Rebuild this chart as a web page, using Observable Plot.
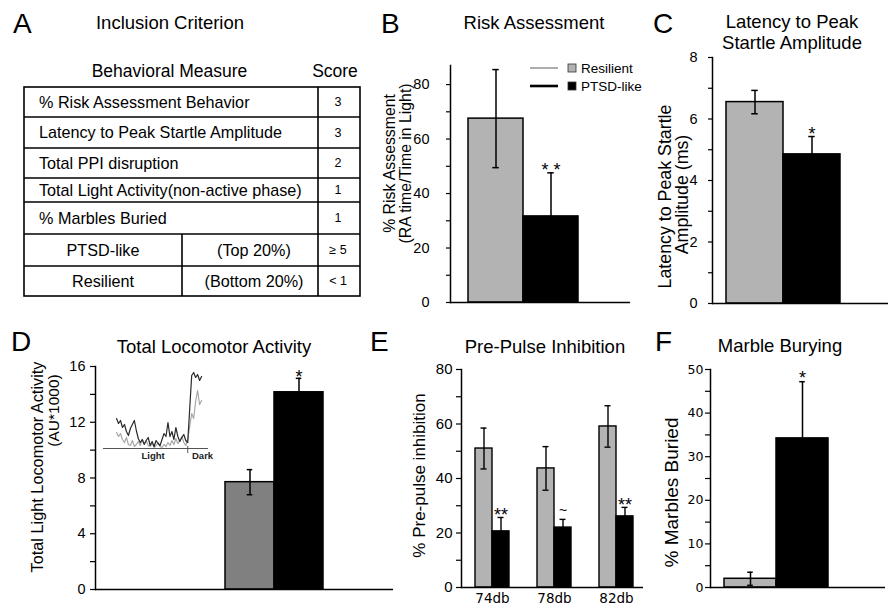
<!DOCTYPE html>
<html><head><meta charset="utf-8">
<script src="https://cdn.jsdelivr.net/npm/d3@7"></script>
<script src="https://cdn.jsdelivr.net/npm/@observablehq/plot@0.6"></script>
<style>
html,body{margin:0;padding:0;background:#fff;}
#fig{position:relative;width:893px;height:606px;overflow:hidden;background:#fff;font-family:"Liberation Sans",Arial,sans-serif;}
.panel{position:absolute;}
.panel svg{overflow:visible;background:transparent;}
#overlay{position:absolute;left:0;top:0;pointer-events:none;}
</style></head><body><div id="fig"></div>
<script>
// ---------------- data ----------------
const groups = ["Resilient", "PTSD-like"];

const riskValues = [67.5, 31.6];
const riskErrors = [18, 16];
const riskNotes = ["", "* *"];
const riskTicks = [0, 10, 20, 30, 40, 50, 60, 70, 80];
const riskTickLabels = [0, 20, 40, 60, 80];

const latencyValues = [6.55, 4.85];
const latencyErrors = [0.38, 0.58];
const latencyNotes = ["", "*"];
const latencyTicks = [0, 1, 2, 3, 4, 5, 6, 7, 8];
const latencyTickLabels = [0, 2, 4, 6, 8];

const locoValues = [7.7, 14.15];
const locoErrors = [0.9, 1.0];
const locoNotes = ["", "*"];
const locoTicks = [0, 2, 4, 6, 8, 10, 12, 14, 16];
const locoTickLabels = [0, 4, 8, 12, 16];

const ppiLevels = ["74db", "78db", "82db"];
const ppiResilient = [51, 43.7, 59.1];
const ppiResilientErr = [7.5, 8, 7.6];
const ppiPTSD = [20.6, 22, 26.1];
const ppiPTSDErr = [5.1, 3, 3.3];
const ppiNotes = ["**", "~", "**"];
const ppiTicks = [0, 10, 20, 30, 40, 50, 60, 70, 80];
const ppiTickLabels = [0, 20, 40, 60, 80];

const marbleValues = [2.0, 34.2];
const marbleErrors = [1.5, 13];
const marbleNotes = ["", "*"];
const marbleTicks = [0, 5, 10, 15, 20, 25, 30, 35, 40, 45, 50];
const marbleTickLabels = [0, 10, 20, 30, 40, 50];

// inset: activity trace per time bin (arbitrary units)
const insetPTSD = [30, 25, 28, 21, 24, 17, 13, 20, 24, 28, 18, 10, 6, 9, 4, 8, 11, 3, 7, 2, 8, 5, 3, 9, 15, 12, 26, 12, 17, 9, 21, 12, 7, 11, 14, 8, 6, 40, 73, 76, 71, 74, 68, 72];
const insetResilient = [16, 12, 15, 9, 6, 11, 4, 3, 8, 2, 4, 7, 3, 9, 5, 8, 3, 2, 5, 1, 3, 6, 2, 1, 4, 2, 6, 3, 8, 4, 10, 5, 8, 12, 6, 3, 9, 22, 35, 30, 47, 58, 44, 48];
const insetPhases = ["Light", "Dark"];
const insetPhaseCenters = [18.5, 43.5];
const insetPhaseBoundary = 36;

// table (panel A)
const measures = ["% Risk Assessment Behavior", "Latency to Peak Startle Amplitude", "Total PPI disruption", "Total Light Activity(non-active phase)", "% Marbles Buried"];
const measureScores = ["3", "3", "2", "1", "1"];
const cutoffGroups = ["PTSD-like", "Resilient"];
const cutoffRanges = ["(Top 20%)", "(Bottom 20%)"];
const cutoffScores = ["\u2265 5", "< 1"];
const tableHeaders = ["Behavioral Measure", "Score"];

const panelLetters = ["A", "B", "C", "D", "E", "F"];
const panelTitles = [["Inclusion Criterion"], ["Risk Assessment"], ["Latency to Peak", "Startle Amplitude"], ["Total Locomotor Activity"], ["Pre-Pulse Inhibition"], ["Marble Burying"]];

// ---------------- layout ----------------
const SANS = "Liberation Sans, Arial, Helvetica, sans-serif";
const VERD = "DejaVu Sans, Verdana, sans-serif";
const fig = document.getElementById("fig");

function place(node, left, top) {
  const div = document.createElement("div");
  div.className = "panel";
  div.style.left = left + "px";
  div.style.top = top + "px";
  div.appendChild(node);
  fig.appendChild(div);
}

function yLabelMarks(labels) {
  return labels.map(l => Plot.text([l.text], {
    text: d => d, frameAnchor: "left", rotate: -90, dx: l.dx, dy: l.dy,
    fontSize: l.fontSize, fontFamily: SANS, textAnchor: "middle", lineAnchor: "middle", fill: "black"
  }));
}

function barPanel(o) {
  const rows = groups.map((g, i) => ({group: g, value: o.values[i], err: o.errors[i], note: o.notes[i]}));
  const bw = (o.xRange[1] - o.xRange[0]) / groups.length;
  const capInset = (bw - o.capWidth) / 2;
  return Plot.plot({
    width: o.width, height: o.height,
    marginLeft: o.ml, marginRight: o.mr, marginTop: o.mt, marginBottom: o.mb,
    style: {background: "transparent", color: "black", fontFamily: SANS, overflow: "visible"},
    x: {type: "band", domain: groups, range: o.xRange, padding: 0, axis: null},
    y: {domain: o.yDomain, axis: null, label: null},
    color: {domain: groups, range: [o.gray, "black"]},
    marks: [
      Plot.barY(rows, {x: "group", y: "value", fill: "group", stroke: "black", strokeWidth: 1.5}),
      Plot.ruleX(rows, {x: "group", y1: d => d.value - d.err, y2: d => d.value + d.err, stroke: "black", strokeWidth: 1.5}),
      Plot.tickY(rows, {x: "group", y: d => d.value + d.err, inset: capInset, stroke: "black", strokeWidth: 1.5}),
      Plot.tickY(rows, {x: "group", y: d => d.value - d.err, inset: capInset, stroke: "black", strokeWidth: 1.5}),
      Plot.text(rows.filter(d => d.note), {x: "group", y: d => d.value + d.err, text: "note", dy: o.noteDy, fontSize: 18, fontFamily: SANS, fill: "black", lineAnchor: "middle"}),
      Plot.axisY({ticks: o.ticks, tickFormat: d => o.tickLabels.includes(d) ? String(d) : "", tickSize: o.tickSize, tickPadding: o.tickPadding, fontSize: o.tickFontSize, fontFamily: o.tickFont, label: null, strokeWidth: 1.2}),
      Plot.frame({anchor: "left", strokeWidth: 1.5}),
      Plot.ruleY([0], {strokeWidth: 1.5}),
      ...yLabelMarks(o.labels)
    ]
  });
}

// Panel B
place(barPanel({
  width: 262, height: 265, ml: 80, mr: 2, mt: 20, mb: 8,
  xRange: [97, 208], yDomain: [0, 87], values: riskValues, errors: riskErrors, notes: riskNotes,
  ticks: riskTicks, tickLabels: riskTickLabels, tickSize: 4, tickPadding: 17, tickFontSize: 14.5, tickFont: SANS,
  gray: "#b3b3b3", capWidth: 7, noteDy: -2.5,
  labels: [{text: "% Risk Assessment", dx: -61, dy: -20.5, fontSize: 15.8}, {text: "(RA time/Time in Light)", dx: -44.5, dy: -20.5, fontSize: 15.8}]
}), 370, 45);

// Panel C
place(barPanel({
  width: 260, height: 270, ml: 82, mr: 2, mt: 17, mb: 7,
  xRange: [95, 210], yDomain: [0, 8], values: latencyValues, errors: latencyErrors, notes: latencyNotes,
  ticks: latencyTicks, tickLabels: latencyTickLabels, tickSize: 4, tickPadding: 11, tickFontSize: 14.5, tickFont: SANS,
  gray: "#b3b3b3", capWidth: 7, noteDy: -2.5,
  labels: [{text: "Latency to Peak Startle", dx: -47.5, dy: 16, fontSize: 17.8}, {text: "Amplitude (ms)", dx: -30, dy: 14, fontSize: 17.8}]
}), 630, 40);

// Panel D
place(barPanel({
  width: 395, height: 245, ml: 95, mr: 2, mt: 16, mb: 6,
  xRange: [224, 323], yDomain: [0, 16], values: locoValues, errors: locoErrors, notes: locoNotes,
  ticks: locoTicks, tickLabels: locoTickLabels, tickSize: 5, tickPadding: 5, tickFontSize: 14.5, tickFont: SANS,
  gray: "#808080", capWidth: 6, noteDy: -1.5,
  labels: [{text: "Total Light Locomotor Activity", dx: -57.5, dy: -11, fontSize: 16.3}, {text: "(AU*1000)", dx: -41.5, dy: -67.5, fontSize: 15.5}]
}), 0, 350);

// Panel F
place(barPanel({
  width: 240, height: 240, ml: 60, mr: 5, mt: 14, mb: 8,
  xRange: [73, 178], yDomain: [0, 50], values: marbleValues, errors: marbleErrors, notes: marbleNotes,
  ticks: marbleTicks, tickLabels: marbleTickLabels, tickSize: 5, tickPadding: 2, tickFontSize: 12.5, tickFont: VERD,
  gray: "#b3b3b3", capWidth: 6, noteDy: -3.5,
  labels: [{text: "% Marbles Buried", dx: -39, dy: 14, fontSize: 19}]
}), 650, 355);

// Panel E (grouped)
{
  const xRange = [82, 296], pad = 0.4516;
  const bw = d3.scaleBand(ppiLevels, xRange).padding(pad).bandwidth();
  const res = ppiLevels.map((lv, i) => ({level: lv, value: ppiResilient[i], err: ppiResilientErr[i]}));
  const pts = ppiLevels.map((lv, i) => ({level: lv, value: ppiPTSD[i], err: ppiPTSDErr[i], note: ppiNotes[i]}));
  const cap = 6;
  const errMarks = (rows, side) => {
    const c = side < 0 ? bw / 4 : 3 * bw / 4;
    return [
      Plot.ruleX(rows, {x: "level", y1: d => d.value - d.err, y2: d => d.value + d.err, dx: c - bw / 2, stroke: "black", strokeWidth: 1.4}),
      Plot.tickY(rows, {x: "level", y: d => d.value + d.err, insetLeft: c - cap / 2, insetRight: bw - c - cap / 2, stroke: "black", strokeWidth: 1.4}),
      Plot.tickY(rows, {x: "level", y: d => d.value - d.err, insetLeft: c - cap / 2, insetRight: bw - c - cap / 2, stroke: "black", strokeWidth: 1.4})
    ];
  };
  const plotE = Plot.plot({
    width: 280, height: 251, marginLeft: 96, marginRight: 2, marginTop: 14, marginBottom: 19,
    style: {background: "transparent", color: "black", fontFamily: SANS, overflow: "visible"},
    x: {type: "band", domain: ppiLevels, range: xRange, padding: pad, axis: null},
    y: {domain: [0, 80], axis: null, label: null},
    marks: [
      Plot.barY(res, {x: "level", y: "value", fill: "#b3b3b3", stroke: "black", strokeWidth: 1.4, insetRight: bw / 2}),
      Plot.barY(pts, {x: "level", y: "value", fill: "black", stroke: "black", strokeWidth: 1.4, insetLeft: bw / 2}),
      ...errMarks(res, -1),
      ...errMarks(pts, 1),
      Plot.text(pts.filter(d => d.note === "**"), {x: "level", y: d => d.value + d.err, text: "note", dx: bw / 4, dy: -2.5, fontSize: 18, fontFamily: SANS, fill: "black", lineAnchor: "middle"}),
      Plot.text(pts.filter(d => d.note === "~"), {x: "level", y: d => d.value + d.err, text: "note", dx: bw / 4, dy: -9, fontSize: 14, fontFamily: SANS, fill: "black", lineAnchor: "middle"}),
      Plot.axisY({ticks: ppiTicks, tickFormat: d => ppiTickLabels.includes(d) ? String(d) : "", tickSize: 5, tickPadding: 4, fontSize: 15, fontFamily: SANS, label: null, strokeWidth: 1.2}),
      Plot.axisX({tickSize: 0, tickPadding: 6, fontSize: 13.5, fontFamily: VERD, label: null}),
      Plot.frame({anchor: "left", strokeWidth: 1.5}),
      Plot.ruleY([0], {strokeWidth: 1.5}),
      ...yLabelMarks([{text: "% Pre-pulse inhibition", dx: -42, dy: -3, fontSize: 17}])
    ]
  });
  place(plotE, 365, 355);
}

// Inset in panel D
{
  const inset = Plot.plot({
    width: 115, height: 100, marginLeft: 3, marginRight: 7, marginTop: 5, marginBottom: 17,
    style: {background: "transparent", color: "black", fontFamily: SANS, overflow: "visible"},
    x: {domain: [-6.6, 46.5], axis: null},
    y: {domain: [0, 78], axis: null},
    marks: [
      Plot.ruleY([0], {stroke: "#555", strokeWidth: 1}),
      Plot.lineY(insetResilient, {x: (d, i) => i, y: d => d, stroke: "#a8a8a8", strokeWidth: 1.2}),
      Plot.lineY(insetPTSD, {x: (d, i) => i, y: d => d, stroke: "#2a2a2a", strokeWidth: 1.2}),
      Plot.ruleX([insetPhaseBoundary], {y1: 2, y2: -5, stroke: "#555", strokeWidth: 1}),
      Plot.text(insetPhases, {x: (d, i) => insetPhaseCenters[i], y: 0, text: d => d, lineAnchor: "top", dy: 4, fontSize: 9.5, fontWeight: "bold", fontFamily: SANS, fill: "#222"})
    ]
  });
  place(inset, 100, 365);
}

// ---------------- overlay: letters, titles, legend, table ----------------
const svg = d3.select(fig).append("svg").attr("id", "overlay")
  .attr("width", 893).attr("height", 606).attr("font-family", SANS);

const letterPos = [[13, 33], [381, 33], [653, 33], [11, 351], [370, 351], [655, 351]];
svg.selectAll("text.letter").data(panelLetters).join("text").attr("class", "letter")
  .attr("x", (d, i) => letterPos[i][0]).attr("y", (d, i) => letterPos[i][1])
  .attr("font-size", 28).attr("fill", "black").text(d => d);

const titlePos = [[170, 28.5], [534, 28.5], [792, 28], [214, 353], [545, 353], [780, 352]];
panelTitles.forEach((lines, i) => {
  lines.forEach((t, j) => {
    svg.append("text").attr("x", titlePos[i][0]).attr("y", titlePos[i][1] + j * 20.5)
      .attr("text-anchor", "middle").attr("font-size", 18.5).attr("fill", "black").text(t);
  });
});

// legend (panel B)
const legendColors = [{line: "#9a9a9a", lw: 1.6, sq: "#b3b3b3"}, {line: "black", lw: 2.6, sq: "black"}];
const legendY = [68, 86];
groups.forEach((g, i) => {
  const y = legendY[i];
  svg.append("line").attr("x1", 530).attr("x2", 558).attr("y1", y).attr("y2", y)
    .attr("stroke", legendColors[i].line).attr("stroke-width", legendColors[i].lw);
  svg.append("rect").attr("x", 568).attr("y", y - 4).attr("width", 8).attr("height", 8)
    .attr("fill", legendColors[i].sq).attr("stroke", "#333").attr("stroke-width", 0.8);
  svg.append("text").attr("x", 581).attr("y", y + 4.7).attr("font-size", 13.5).attr("fill", "black").text(g);
});

// table (panel A)
{
  const x0 = 24, x1 = 360, xs = 318, xm = 182;
  const rowY = [87, 117, 148, 178, 202, 234, 266, 296];
  const t = svg.append("g").attr("stroke", "black").attr("stroke-width", 1.6);
  t.append("rect").attr("x", x0).attr("y", rowY[0]).attr("width", x1 - x0).attr("height", rowY[7] - rowY[0]).attr("fill", "none");
  rowY.slice(1, -1).forEach(y => t.append("line").attr("x1", x0).attr("x2", x1).attr("y1", y).attr("y2", y));
  t.append("line").attr("x1", xs).attr("x2", xs).attr("y1", rowY[0]).attr("y2", rowY[7]);
  t.append("line").attr("x1", xm).attr("x2", xm).attr("y1", rowY[5]).attr("y2", rowY[7]);

  svg.append("text").attr("x", 169.5).attr("y", 77).attr("text-anchor", "middle").attr("font-size", 17.5).attr("fill", "black").text(tableHeaders[0]);
  svg.append("text").attr("x", 335).attr("y", 77).attr("text-anchor", "middle").attr("font-size", 17.5).attr("fill", "black").text(tableHeaders[1]);

  measures.forEach((m, i) => {
    const cy = (rowY[i] + rowY[i + 1]) / 2;
    svg.append("text").attr("x", 39).attr("y", cy + 5.8).attr("font-size", 16.2).attr("fill", "black").text(m);
    svg.append("text").attr("x", 338).attr("y", cy + 4.4).attr("text-anchor", "middle").attr("font-size", 12.5).attr("fill", "black").text(measureScores[i]);
  });
  cutoffGroups.forEach((g, i) => {
    const cy = (rowY[5 + i] + rowY[6 + i]) / 2;
    svg.append("text").attr("x", 103).attr("y", cy + 5.8).attr("text-anchor", "middle").attr("font-size", 16.2).attr("fill", "black").text(g);
    svg.append("text").attr("x", 254).attr("y", cy + 5.8).attr("text-anchor", "middle").attr("font-size", 16.2).attr("fill", "black").text(cutoffRanges[i]);
    svg.append("text").attr("x", 338).attr("y", cy + 4.4).attr("text-anchor", "middle").attr("font-size", 12.5).attr("fill", "black").text(cutoffScores[i]);
  });
}
</script></body></html>
